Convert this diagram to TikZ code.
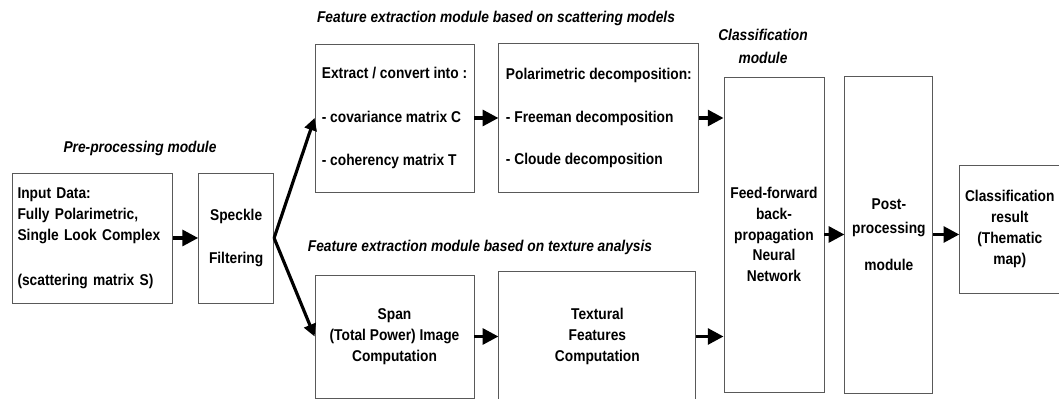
\documentclass[tikz,border=0pt]{standalone}
\usepackage{fontspec}
\setmainfont{Liberation Sans}[FakeStretch=0.88]
\usetikzlibrary{positioning,arrows.meta}

\begin{document}
\begin{tikzpicture}[
    font=\fontsize{8.9}{11.9}\selectfont\bfseries,
    box/.style={draw=black!65, line width=0.5pt, inner sep=3pt},
    title/.style={font=\fontsize{8.9}{11.9}\selectfont\bfseries\itshape, align=center},
    flow/.style={line width=2pt, -{Triangle[length=9pt,width=9pt]}},
    fan/.style={line width=1.8pt, -{Triangle[length=7pt,width=7pt]}},
  ]
  \useasboundingbox (0,0) rectangle (21.18,7.98);

  % pre-processing
  \node[box, align=left, text width=3.0cm, minimum height=2.6cm] (input) at (1.85, 3.22)
    {Input Data:\\Fully Polarimetric,\\Single Look Complex\\[13.6pt](scattering matrix S)};
  \node[box, align=center, minimum width=1.5cm, minimum height=2.6cm, right=0.5cm of input] (speckle)
    {Speckle\\[12.5pt]Filtering};

  % scattering models branch
  \node[box, align=left, minimum width=3.18cm, minimum height=2.96cm] (extract) at (7.89, 5.62)
    {Extract / convert into :\\[12.8pt]- covariance matrix C\\[12.8pt]- coherency matrix T};
  \node[box, align=left, minimum width=4.0cm, minimum height=2.98cm, right=0.48cm of extract] (polar)
    {Polarimetric decomposition:\\[12.2pt]- Freeman decomposition\\[12.2pt]- Cloude decomposition};

  % texture branch
  \node[box, align=center, minimum width=3.18cm, minimum height=2.46cm] (span) at (7.89, 1.25)
    {Span\\(Total Power) Image\\Computation};
  \node[box, align=center, minimum width=3.94cm, minimum height=2.6cm, right=0.48cm of span] (textural)
    {Textural\\Features\\Computation};

  % classification
  \node[box, align=center, minimum width=2cm, minimum height=6.3cm] (network) at (15.48, 3.29)
    {Feed-forward\\back-\\propagation\\Neural\\Network};
  \node[box, align=center, minimum width=1.76cm, minimum height=6.34cm, right=0.4cm of network] (post)
    {\\[-6pt]Post-\\[1.7pt]processing\\[9.1pt]module};
  \node[box, align=center, minimum width=1.98cm, minimum height=2.56cm, right=0.52cm of post, yshift=0.11cm] (result)
    {Classification\\result\\(Thematic\\map)};

  % module titles
  \node[title] (pretitle) at (2.8, 5.02) {Pre-processing module};
  \node[title] (scattitle) at (9.92, 7.62) {Feature extraction module based on scattering models};
  \node[title] (texttitle) at (9.6, 3.04) {Feature extraction module based on texture analysis};
  \node[title] (classtitle) at (15.26, 7.05) {Classification\\[1.1pt]module};

  \draw[flow] (input.east) -- (speckle.west);
  \draw[fan] (speckle.east) -- (extract.west);
  \draw[fan] (speckle.east) -- (span.west);
  \draw[flow] (extract.east) -- (extract.east -| polar.west);
  \draw[flow] (span.east) -- (span.east -| textural.west);
  \draw[flow] (polar.east) -- (polar.east -| network.west);
  \draw[flow] (textural.east) -- (textural.east -| network.west);
  \draw[flow] (network.east) -- (network.east -| post.west);
  \draw[flow] (post.east) -- (post.east -| result.west);
\end{tikzpicture}
\end{document}
